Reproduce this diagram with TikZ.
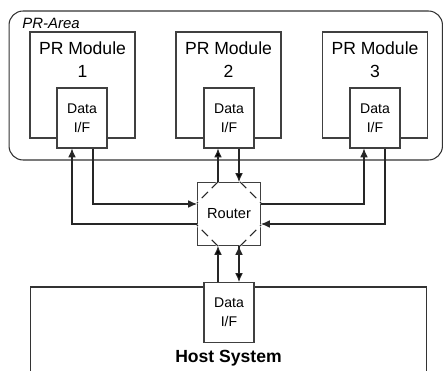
\documentclass[tikz,border=0pt]{standalone}
\usepackage{fontspec}
\setmainfont{Liberation Sans}
\usetikzlibrary{positioning,calc,arrows.meta}

\tikzstyle{area}=[
    rectangle,
    rounded corners=0.28cm,
    line width=0.6pt,
    draw=black!80,
    minimum width=8.67cm,
    minimum height=2.98cm
]
\tikzstyle{module}=[
    rectangle,
    line width=0.6pt,
    draw=black!75,
    fill=white,
    inner sep=0pt,
    minimum width=2.1cm,
    minimum height=2.12cm
]
\tikzstyle{modlabel}=[
    inner sep=0pt,
    align=center,
    font=\fontsize{10}{13}\selectfont
]
\tikzstyle{dataif}=[
    rectangle,
    line width=0.6pt,
    draw=black!75,
    fill=white,
    inner sep=0pt,
    minimum width=1cm,
    minimum height=1.2cm,
    align=center,
    font=\fontsize{8}{10.8}\selectfont
]
\tikzstyle{router}=[
    rectangle,
    line width=0.6pt,
    draw=black!75,
    fill=white,
    inner sep=0pt,
    minimum size=1.26cm,
    font=\fontsize{8.3}{10}\selectfont
]
\tikzstyle{host}=[
    rectangle,
    line width=0.6pt,
    draw=black!80,
    minimum width=7.94cm,
    minimum height=2.66cm
]
\tikzstyle{link}=[
    line width=0.6pt,
    draw=black!85
]

\begin{document}
\begin{tikzpicture}[x=0.02cm,y=-0.02cm,>={Latex[length=5pt,width=4.4pt]}]
	\path[use as bounding box, clip] (0,0) rectangle (444,371);

	% PR AREA
	\node (area) [area] at (225.75,85.5) {};
	\node (arealbl) [inner sep=0pt, font=\fontsize{8.5}{10}\selectfont\itshape,
		below right=0.15cm and 0.27cm of area.north west] {PR-Area};

	% MODULES
	\node (mod1) [module] at (82.5,85) {};
	\node (mod2) [module] at (228.5,85) {};
	\node (mod3) [module] at (375,85) {};
	\node (lbl1) [modlabel, below=0.2cm of mod1.north] {PR Module\\1};
	\node (lbl2) [modlabel, below=0.2cm of mod2.north] {PR Module\\2};
	\node (lbl3) [modlabel, below=0.2cm of mod3.north] {PR Module\\3};

	% DATA I/F LAYER
	\node (dat1) [dataif] at (82,118) {Data\\I/F};
	\node (dat2) [dataif] at (229,118) {Data\\I/F};
	\node (dat3) [dataif] at (375,118) {Data\\I/F};

	% ROUTER
	\node (rtr) [router] at (229,214) {Router};
	\draw[white, line width=1.2pt]
		($(rtr.north west)+(21,0)$) -- ($(rtr.north west)+(0,21)$)
		($(rtr.north east)+(-21,0)$) -- ($(rtr.north east)+(0,21)$)
		($(rtr.south west)+(21,0)$) -- ($(rtr.south west)+(0,-21)$)
		($(rtr.south east)+(-21,0)$) -- ($(rtr.south east)+(0,-21)$);
	\draw[link, dash pattern=on 5pt off 3pt]
		($(rtr.north west)+(21,0)$) -- ($(rtr.north west)+(0,21)$)
		($(rtr.north east)+(-21,0)$) -- ($(rtr.north east)+(0,21)$)
		($(rtr.south west)+(21,0)$) -- ($(rtr.south west)+(0,-21)$)
		($(rtr.south east)+(-21,0)$) -- ($(rtr.south east)+(0,-21)$);

	% HOST
	\node (host) [host] at (228.5,353.5) {};
	\node (hdat) [dataif] at (229,312.5) {Data\\I/F};
	\node (hostlbl) [font=\fontsize{10}{12}\selectfont\bfseries] at (228.5,358) {Host System};

	% Connections between router and module 1
	\draw[link,->] ($(rtr.west)+(0,10)$) -| ($(dat1.south)+(-10,0)$);
	\draw[link,->] ($(dat1.south)+(11,0)$) |- ($(rtr.west)+(0,-10)$);

	% Connections between router and module 3
	\draw[link,->] ($(rtr.east)+(0,-10)$) -| ($(dat3.south)+(-11,0)$);
	\draw[link,->] ($(dat3.south)+(10,0)$) |- ($(rtr.east)+(0,10)$);

	% Vertical connections
	\path[link,->]
	($(rtr.north)+(-11,0)$) edge ($(dat2.south)+(-11,0)$)
	($(dat2.south)+(10,0)$) edge ($(rtr.north)+(10,0)$)
	($(hdat.north)+(-11,0)$) edge ($(rtr.south)+(-11,0)$)
	($(rtr.south)+(10,0)$) edge ($(hdat.north)+(10,0)$)
	;
\end{tikzpicture}
\end{document}
